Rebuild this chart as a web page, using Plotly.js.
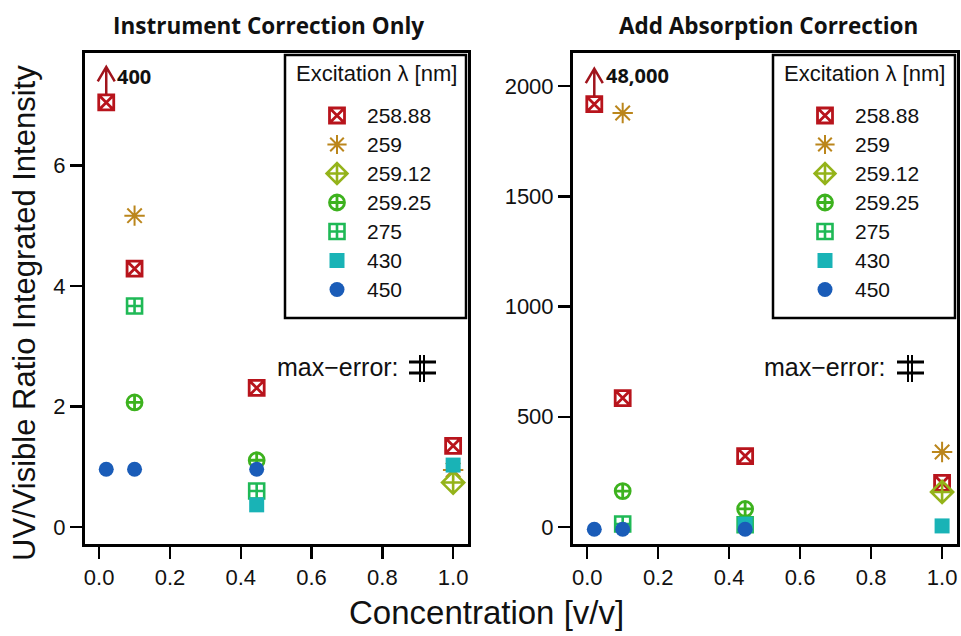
<!DOCTYPE html>
<html><head><meta charset="utf-8">
<script src="https://cdn.plot.ly/plotly-3.0.1.min.js"></script>
<style>html,body{margin:0;padding:0;background:#fff}#chart{width:961px;height:636px}</style>
</head><body><div id="chart"></div>
<script>
// ---- data ----
const seriesNames = ['258.88', '259', '259.12', '259.25', '275', '430', '450'];
const seriesSymbols = ['square-x-open', 'asterisk-open', 'diamond-cross-open', 'circle-cross-open', 'square-cross-open', 'square', 'circle'];
const seriesColors = ['#b8141c', '#bb861c', '#94b31a', '#3db21e', '#1fb956', '#19b3b6', '#1a5cb8'];

// Instrument correction only
const leftX = [
  [0.02, 0.1, 0.445, 1.0],
  [0.1, 1.0],
  [1.0],
  [0.1, 0.445],
  [0.1, 0.445],
  [0.445, 1.0],
  [0.02, 0.1, 0.445]
];
const leftY = [
  [7.05, 4.29, 2.31, 1.35],
  [5.17, 0.95],
  [0.74],
  [2.07, 1.11],
  [3.67, 0.60],
  [0.37, 1.03],
  [0.96, 0.96, 0.96]
];
// Add absorption correction
const rightX = [
  [0.02, 0.1, 0.445, 1.0],
  [0.1, 1.0],
  [1.0],
  [0.1, 0.445],
  [0.1, 0.445],
  [0.445, 1.0],
  [0.02, 0.1, 0.445]
];
const rightY = [
  [1918, 585, 322, 200],
  [1878, 340],
  [159],
  [163, 82],
  [14, 10],
  [12, 5],
  [-10, -10, -10]
];
const leftTicks = [0, 2, 4, 6];
const rightTicks = [0, 500, 1000, 1500, 2000];
const xTicks = [0, 0.2, 0.4, 0.6, 0.8, 1.0];
const offscaleLeft = '400';
const offscaleRight = '48,000';
const legendTitle = 'Excitation λ [nm]';

// ---- helpers ----
const W = 961, H = 636;
const px = x => x / W;
const py = y => 1 - y / H;
const FONT = 'Liberation Sans, Arial, sans-serif';
const BOLD = 'Open Sans, Lato, sans-serif';

const sizes = [15, 17, 17, 15, 15, 15, 15];
const lineW = [2.8, 2, 2.6, 2.8, 2.6, 0, 0];
const traces = [];
function addSeries(xs, ys, xa, ya, leg) {
  for (let i = 0; i < seriesNames.length; i++) {
    traces.push({
      type: 'scatter', mode: 'markers',
      name: '<span style="font-size:21px">' + seriesNames[i] + '</span>',
      x: xs[i], y: ys[i], xaxis: xa, yaxis: ya, legend: leg,
      marker: {symbol: seriesSymbols[i], size: sizes[i], color: seriesColors[i],
               line: {color: seriesColors[i], width: lineW[i]}},
      hoverinfo: 'x+y'
    });
  }
}
addSeries(leftX, leftY, 'x', 'y', 'legend');
addSeries(rightX, rightY, 'x2', 'y2', 'legend2');

const axBase = {
  showline: true, linecolor: '#000', linewidth: 3, mirror: true,
  ticks: 'outside', ticklen: 12, tickwidth: 2.5, tickcolor: '#000',
  showgrid: false, zeroline: false,
  tickfont: {family: FONT, size: 22, color: '#111'}
};
const legBase = {
  xanchor: 'left', yanchor: 'top', bgcolor: 'rgba(0,0,0,0)', borderwidth: 0,
  font: {family: FONT, size: 20, color: '#111'},
  itemwidth: 50, tracegroupgap: 0
};

function paperText(text, x, y, size, family, extra) {
  return Object.assign({text: text, xref: 'paper', yref: 'paper', x: px(x), y: py(y),
    xanchor: 'center', yanchor: 'middle', showarrow: false,
    font: {family: family, size: size, color: '#111'}}, extra || {});
}

const annotations = [
  paperText('<b>Instrument Correction Only</b>', 268, 25, 22.5, BOLD),
  paperText('<b>Add Absorption Correction</b>', 768, 25, 22.5, BOLD),
  paperText('UV/Visible Ratio Integrated Intensity', 24, 313, 31, FONT, {textangle: -90}),
  paperText('Concentration [v/v]', 486, 612, 33, FONT),
  paperText(legendTitle, 376, 73, 22, FONT),
  paperText(legendTitle, 864, 73, 22, FONT),
  paperText('max\u2212error:', 401, 367, 25, FONT, {xanchor: 'right'}),
  paperText('max\u2212error:', 888, 367, 25, FONT, {xanchor: 'right'}),
  {text: '<b>' + offscaleLeft + '</b>', xref: 'x', yref: 'y', x: leftX[0][0], y: leftY[0][0], xshift: 9, yshift: 26, xanchor: 'left', yanchor: 'middle', showarrow: false, font: {family: BOLD, size: 20, color: '#111'}},
  {text: '<b>' + offscaleRight + '</b>', xref: 'x2', yref: 'y2', x: rightX[0][0], y: rightY[0][0], xshift: 10, yshift: 29, xanchor: 'left', yanchor: 'middle', showarrow: false, font: {family: BOLD, size: 20, color: '#111'}}
];

const shapes = [];
// off-scale arrows, anchored to the first point of the 258.88 series
function offArrow(xr, yr, xv, yv) {
  shapes.push({type: 'path', xref: xr, yref: yr, xsizemode: 'pixel', ysizemode: 'pixel',
    xanchor: xv, yanchor: yv, path: 'M0,8 L0,35 M-8.5,21 L0,35.5 L8.5,21',
    line: {color: '#a0141c', width: 2.5}, layer: 'above'});
}
offArrow('x', 'y', leftX[0][0], leftY[0][0]);
offArrow('x2', 'y2', rightX[0][0], rightY[0][0]);
// legend frames
function legendBox(x0, x1) {
  shapes.push({type: 'rect', xref: 'paper', yref: 'paper', x0: px(x0), x1: px(x1), y0: py(318), y1: py(55),
    line: {color: '#000', width: 2.5}, fillcolor: 'rgba(0,0,0,0)', layer: 'above'});
}
legendBox(285, 466);
legendBox(773, 955);
// max-error glyphs
function errGlyph(cx) {
  const L = {color: '#000', width: 2};
  shapes.push({type: 'line', xref: 'paper', yref: 'paper', x0: px(cx - 2), x1: px(cx - 2), y0: py(355), y1: py(382), line: L});
  shapes.push({type: 'line', xref: 'paper', yref: 'paper', x0: px(cx + 2), x1: px(cx + 2), y0: py(355), y1: py(382), line: L});
  shapes.push({type: 'line', xref: 'paper', yref: 'paper', x0: px(cx - 13), x1: px(cx + 14), y0: py(362), y1: py(362), line: {color: '#000', width: 3}});
  shapes.push({type: 'line', xref: 'paper', yref: 'paper', x0: px(cx - 13), x1: px(cx + 14), y0: py(373), y1: py(373), line: {color: '#000', width: 3}});
}
errGlyph(422);
errGlyph(910);

const layout = {
  width: W, height: H, margin: {l: 0, r: 0, t: 0, b: 0},
  paper_bgcolor: '#fff', plot_bgcolor: '#fff',
  xaxis: Object.assign({}, axBase, {domain: [px(85), px(468)], range: [-0.04, 1.042], tickvals: xTicks, tickformat: '.1f', anchor: 'y'}),
  yaxis: Object.assign({}, axBase, {domain: [py(544), py(53)], range: [-0.28, 7.87], tickvals: leftTicks, anchor: 'x'}),
  xaxis2: Object.assign({}, axBase, {domain: [px(573), px(957)], range: [-0.04, 1.042], tickvals: xTicks, tickformat: '.1f', anchor: 'y2'}),
  yaxis2: Object.assign({}, axBase, {domain: [py(544), py(53)], range: [-77, 2150], tickvals: rightTicks, anchor: 'x2'}),
  legend: Object.assign({}, legBase, {x: px(307), y: py(96)}),
  legend2: Object.assign({}, legBase, {x: px(795), y: py(96)}),
  annotations: annotations,
  shapes: shapes,
  showlegend: true
};

Plotly.newPlot('chart', traces, layout, {displayModeBar: false, staticPlot: true});
</script>
</body></html>
